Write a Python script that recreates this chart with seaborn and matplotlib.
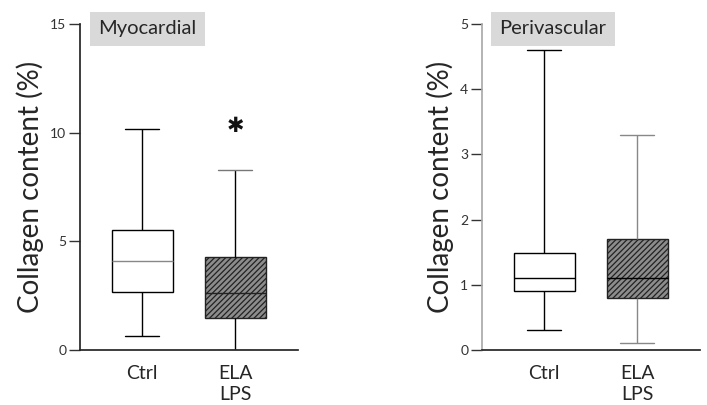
import numpy as np
import pandas as pd
import matplotlib
matplotlib.use("Agg")
import matplotlib.pyplot as plt
import seaborn as sns

# Data: five-number summaries (min, Q1, median, Q3, max)
groups = ["Ctrl", "ELA\nLPS"]
myo_ctrl = [0.65, 2.65, 4.1, 5.5, 10.15]
myo_ela = [0.0, 1.45, 2.6, 4.3, 8.3]
peri_ctrl = [0.3, 0.9, 1.1, 1.48, 4.6]
peri_ela = [0.1, 0.8, 1.1, 1.7, 3.3]
myo_ticks = [0, 5, 10, 15]
peri_ticks = [0, 1, 2, 3, 4, 5]
ylabel = "Collagen content (%)"
titles = ["Myocardial", "Perivascular"]
star_pos = (1, 10.3)

sns.set_theme(style="ticks")
plt.rcParams['font.family'] = ['Lato', 'DejaVu Sans']
plt.rcParams['hatch.linewidth'] = 0.9
plt.rcParams['hatch.color'] = '#222222'

fig = plt.figure(figsize=(7.07, 4.05), dpi=100)
ax1 = fig.add_axes([0.1132, 0.1358, 0.3083, 0.805])
ax2 = fig.add_axes([0.6818, 0.1358, 0.3083, 0.805])


def panel(ax, a, b, ymax, ticks, title, title_x, med_colors, whisk_colors,
          cap_colors):
    df = pd.DataFrame({"group": [groups[0]] * len(a) + [groups[1]] * len(b),
                       "value": a + b})
    sns.boxplot(data=df, x="group", y="value", ax=ax, whis=np.inf,
                width=0.656, linewidth=1.0, linecolor="black",
                color="white", saturation=1)
    boxes = list(ax.patches)
    boxes[0].set_facecolor("white")
    boxes[0].set_edgecolor("black")
    boxes[1].set_facecolor("#8c8c8c")
    boxes[1].set_edgecolor("#222222")
    boxes[1].set_hatch("//////")
    for ln in ax.lines:
        xd = np.asarray(ln.get_xdata(), dtype=float)
        yd = np.asarray(ln.get_ydata(), dtype=float)
        if len(xd) < 2:
            continue
        i = 0 if xd.mean() < 0.5 else 1
        ln.set_linewidth(1.0)
        if yd[0] == yd[1] and abs(xd[1] - xd[0]) > 0.5:
            ln.set_color(med_colors[i])
        elif yd[0] == yd[1]:
            c = xd.mean()
            ln.set_xdata([c - 0.183, c + 0.183])
            ln.set_color(cap_colors[i])
        else:
            ln.set_color(whisk_colors[i])
    ax.set_ylim(0, ymax)
    ax.set_xlim(-0.667, 1.677)
    ax.set_yticks(ticks)
    ax.set_yticklabels([str(t) for t in ticks], fontsize=10, color="#333333")
    ax.tick_params(axis="y", length=8, width=1, color="#333333", pad=2)
    ax.tick_params(axis="x", length=0, labelsize=14, pad=11)
    for lab in ax.get_xticklabels():
        lab.set_linespacing(1.3)
    ax.set_xlabel("")
    ax.set_ylabel(ylabel, fontsize=20, labelpad=4)
    sns.despine(ax=ax)
    ax.text(title_x, 0.985, title, transform=ax.transAxes, fontsize=14.5,
            va="center", ha="left",
            bbox=dict(facecolor="#d9d9d9", edgecolor="none", pad=6))


panel(ax1, myo_ctrl, myo_ela, 15, myo_ticks, titles[0], 0.085,
      ["#888888", "#222222"], ["black", "black"], ["black", "#777777"])
panel(ax2, peri_ctrl, peri_ela, 5, peri_ticks, titles[1], 0.08,
      ["black", "black"], ["black", "#888888"], ["black", "#888888"])
ax2.spines["left"].set_color("#aaaaaa")

ax1.text(star_pos[0], star_pos[1], "\u2731", fontsize=15, ha="center",
         va="center", family="DejaVu Sans", color="#111111")

fig.savefig("out.png", dpi=100)
